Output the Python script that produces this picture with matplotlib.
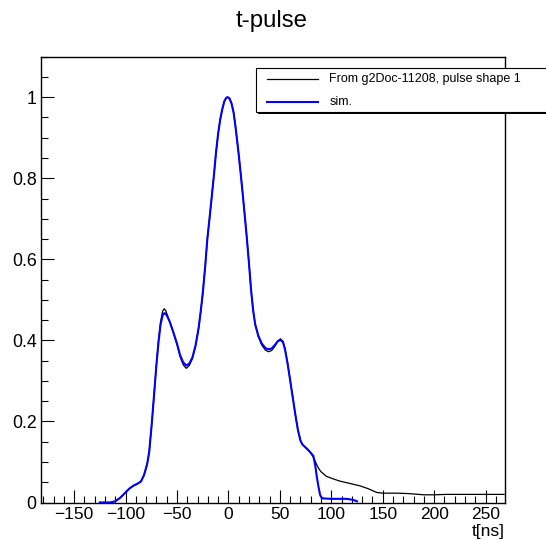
import matplotlib
matplotlib.use('Agg')
import matplotlib.pyplot as plt
from matplotlib.patches import Rectangle
from matplotlib.lines import Line2D
from matplotlib.ticker import MultipleLocator, FixedLocator, FixedFormatter

plt.rcParams['font.family'] = ['Liberation Sans', 'DejaVu Sans']

title = "t-pulse"
x_label = "t[ns]"
legend_labels = ["From g2Doc-11208, pulse shape 1", "sim."]

# reference pulse (black)
ref_t = [-125, -115, -110, -105, -100, -96, -92, -88, -85, -82, -79, -77, -74.5, -72, -70, -68,
         -66, -64, -62.5, -61, -59, -57, -53.5, -50, -47, -44, -41, -38, -35, -32, -29, -27,
         -25, -22.5, -20.5, -18, -16, -14, -12, -10, -8, -6, -4, -2, -0.5, 1, 3, 5, 7, 9.7,
         12, 14, 16, 18, 20, 22, 24, 26, 29, 32.5, 36, 39, 42, 45, 48, 50.5, 53, 55, 57.5,
         60, 62.5, 65, 67.5, 70, 72, 74.5, 77, 79.5, 82.5, 85, 87.5, 90, 95, 100, 108, 118,
         128, 136, 144, 150, 164, 175, 190, 200, 212, 230, 250, 268]
ref_v = [0.0, 0.0, 0.003, 0.012, 0.025, 0.035, 0.042, 0.047, 0.052, 0.068, 0.095, 0.125, 0.195,
         0.275, 0.34, 0.40, 0.445, 0.472, 0.478, 0.474, 0.46, 0.445, 0.418, 0.39, 0.36, 0.34,
         0.331, 0.338, 0.355, 0.385, 0.43, 0.47, 0.515, 0.585, 0.65, 0.71, 0.76, 0.81, 0.865,
         0.91, 0.945, 0.97, 0.99, 0.999, 1.0, 0.997, 0.985, 0.963, 0.925, 0.866, 0.81, 0.759,
         0.705, 0.65, 0.59, 0.525, 0.475, 0.44, 0.41, 0.388, 0.376, 0.372, 0.375, 0.385, 0.398,
         0.404, 0.398, 0.38, 0.345, 0.302, 0.26, 0.218, 0.18, 0.153, 0.143, 0.137, 0.131, 0.124,
         0.112, 0.098, 0.085, 0.076, 0.065, 0.06, 0.053, 0.047, 0.041, 0.034, 0.025, 0.023,
         0.023, 0.022, 0.019, 0.019, 0.020, 0.020, 0.020, 0.020]

# simulation (blue)
sim_t = [-125, -115, -110, -105, -100, -96, -92, -88, -85, -82, -79, -77, -74.5, -72, -70, -68,
         -66, -64, -62.5, -61.5, -60, -57, -53.5, -50, -47, -44, -41, -38, -35, -32, -29, -27,
         -25, -22.5, -20.5, -18, -16, -14, -12, -10, -8, -6, -4, -2, -0.5, 1, 3, 5, 7, 9.7,
         12, 14, 16, 18, 20, 22, 24, 26, 29, 32.5, 36, 39, 42, 45, 48, 50.5, 53, 55, 57.5,
         60, 62.5, 65, 67.5, 70, 72, 74.5, 77, 79.5, 82.6, 84.5, 85.9, 87.5, 89.1, 90.5,
         92.3, 100, 110, 115, 120, 123, 125]
sim_v = [0.0, 0.0, 0.003, 0.012, 0.025, 0.035, 0.042, 0.047, 0.052, 0.068, 0.095, 0.125, 0.195,
         0.275, 0.34, 0.395, 0.438, 0.462, 0.467, 0.467, 0.462, 0.446, 0.42, 0.392, 0.364, 0.346,
         0.338, 0.343, 0.358, 0.387, 0.43, 0.47, 0.515, 0.585, 0.65, 0.71, 0.76, 0.81, 0.865,
         0.91, 0.945, 0.97, 0.99, 0.999, 1.0, 0.997, 0.985, 0.963, 0.925, 0.866, 0.81, 0.759,
         0.705, 0.65, 0.59, 0.525, 0.475, 0.44, 0.412, 0.392, 0.381, 0.378, 0.38, 0.388, 0.398,
         0.401, 0.396, 0.378, 0.343, 0.302, 0.26, 0.218, 0.18, 0.153, 0.143, 0.137, 0.131, 0.124,
         0.115, 0.09, 0.064, 0.04, 0.019, 0.012, 0.010, 0.009, 0.009, 0.009, 0.007, 0.005, 0.003]

x_ticks = [-150, -100, -50, 0, 50, 100, 150, 200, 250]
y_ticks = [0, 0.2, 0.4, 0.6, 0.8, 1.0]
y_tick_labels = ['0', '0.2', '0.4', '0.6', '0.8', '1']

W, H = 546, 540
fig = plt.figure(figsize=(W / 100, H / 100), dpi=100)
ax = fig.add_axes([40.7 / W, 1 - 502.5 / H, (505 - 40.7) / W, (502.5 - 56.7) / H])

ax.plot(ref_t, ref_v, color='black', lw=0.9, zorder=3)
ax.plot(sim_t, sim_v, color='#0000ff', lw=1.5, zorder=4)

ax.set_xlim(-182.5, 268.9)
ax.set_ylim(0, 1.1)

ax.xaxis.set_major_locator(FixedLocator(x_ticks))
ax.xaxis.set_minor_locator(MultipleLocator(10))
ax.yaxis.set_major_locator(FixedLocator(y_ticks))
ax.yaxis.set_major_formatter(FixedFormatter(y_tick_labels))
ax.yaxis.set_minor_locator(MultipleLocator(0.05))

ax.tick_params(which='both', direction='in', top=False, right=False, width=0.8, color='black')
ax.tick_params(which='major', length=9.4)
ax.tick_params(which='minor', length=4.7)
ax.tick_params(axis='x', which='major', labelsize=12.5, pad=3.5)
ax.tick_params(axis='y', which='major', labelsize=12.8, pad=3.0)
for s in ax.spines.values():
    s.set_linewidth(1.0)

ax.text(1.0, -0.048, x_label, transform=ax.transAxes, ha='right', va='top', fontsize=12.5)

fig.text(271.7 / W, 1 - 26.7 / H, title, ha='center', va='baseline', fontsize=17.3)

# legend box (ROOT style, runs off the right edge)
lx0, ly0, ly1 = 256 / W, 1 - 112 / H, 1 - 68 / H
shadow = Rectangle((lx0 + 2 / W, ly0 - 2 / H), 1.1 - lx0, ly1 - ly0, transform=fig.transFigure,
                   facecolor='black', edgecolor='black', lw=0, zorder=10)
box = Rectangle((lx0, ly0), 1.1 - lx0, ly1 - ly0, transform=fig.transFigure,
                facecolor='white', edgecolor='black', lw=0.8, zorder=11)
fig.patches.extend([shadow, box])
entry_y = [1 - 79 / H, 1 - 101.7 / H]
entry_c = ['black', '#0000ff']
entry_lw = [0.9, 1.5]
for yy, cc, lw, lab in zip(entry_y, entry_c, entry_lw, legend_labels):
    fig.lines.append(Line2D([266.7 / W, 318.3 / W], [yy, yy], transform=fig.transFigure,
                            color=cc, lw=lw, zorder=12))
    fig.text(329.3 / W, yy, lab, ha='left', va='center', fontsize=9, zorder=12)

fig.savefig('out.png', dpi=100)
